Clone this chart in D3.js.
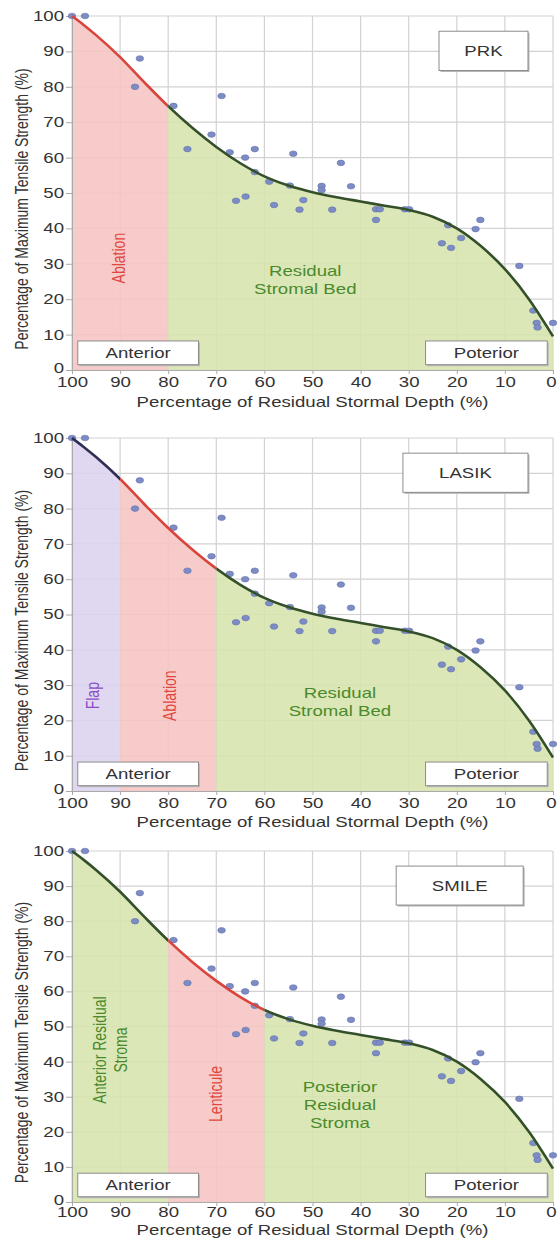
<!DOCTYPE html>
<html>
<head>
<meta charset="utf-8">
<script src="https://cdn.jsdelivr.net/npm/d3@7"></script>
<style>
  body { margin: 0; background: #fff; }
  text { font-family: "Liberation Sans", Arial, sans-serif; }
</style>
</head>
<body>
<div id="chart"></div>
<script>
// ---- data ----
var xTicks = [100, 90, 80, 70, 60, 50, 40, 30, 20, 10, 0];
var yTicks = [0, 10, 20, 30, 40, 50, 60, 70, 80, 90, 100];

// measured samples (depth %, strength %)
var pointX = [100, 97.3, 85.9, 86.9, 78.9, 68.9, 71, 76, 67.2, 64, 62, 62, 59, 65.9, 63.9, 58,
  54, 44.1, 42, 48.1, 48.1, 54.7, 51.9, 52.7, 45.9, 36.8, 36, 36.8, 30.8, 29.9,
  21.8, 23.1, 21.2, 19.1, 16.1, 15.1, 7, 4.1, 3.4, 3.2, 0];
var pointY = [100, 100, 88, 80, 74.6, 77.4, 66.5, 62.4, 61.5, 60, 62.4, 55.9, 53.2, 47.8, 49, 46.6,
  61.1, 58.5, 51.9, 52, 50.8, 52.1, 48, 45.3, 45.3, 45.4, 45.4, 42.4, 45.4, 45.4,
  40.9, 35.8, 34.5, 37.3, 39.8, 42.4, 29.4, 16.8, 13.3, 12, 13.3];

// fitted curve
var curveX = [100, 97.5, 95, 90, 85, 80, 75, 70, 65, 60, 55, 50, 45, 40, 35, 30, 25, 20, 15, 10, 5, 0];
var curveY = [100, 97.4, 94.6, 88.4, 81.3, 74.5, 68.4, 63, 58.4, 54.7, 52.1, 50.2, 48.8, 47.6, 46.4, 45.2, 43.3, 40, 35, 28.5, 20, 9.5];

var procedures = ["PRK", "LASIK", "SMILE"];
var zoneBreaks = [[100, 80, 0], [100, 90, 70, 0], [100, 80, 60, 0]];
var zoneKinds = [["ablation", "stroma"], ["flap", "ablation", "stroma"], ["stroma", "lenticule", "stroma"]];
var zoneLabels = [
  [["Ablation"], ["Residual", "Stromal Bed"]],
  [["Flap"], ["Ablation"], ["Residual", "Stromal Bed"]],
  [["Anterior Residual", "Stroma"], ["Lenticule"], ["Posterior", "Residual", "Stroma"]]
];
var xTitle = "Percentage of Residual Stormal Depth (%)";
var yTitle = "Percentage of Maximum Tensile Strength (%)";

// ---- layout / style ----
var svgWidth = 557, svgHeight = 1240;
var panelTop = [16, 438, 851];
var panelBottom = [370, 791, 1202];
var titleOffset = [32, 31, 28];
var plotLeft = 72, plotRight = 553;
var SX = 1.33; // the source figure is stretched horizontally

var fillColor = { flap: "#dcd2ee", ablation: "#f5c4c2", lenticule: "#f5c4c2", stroma: "#d6e4ad" };
var lineColor = { flap: "#2f2f55", ablation: "#d9453c", lenticule: "#d9453c", stroma: "#34502a" };
var labelColor = { flap: "#8a4fc8", ablation: "#e0463f", lenticule: "#e0463f", stroma: "#4a8a2c" };
// label anchors in data units
var labelPos = [
  [{ x: 90.4, y: 31.6, rot: true }, { x: 51.5, y: 28, rot: false }],
  [{ x: 95.7, y: 27, rot: true }, { x: 79.8, y: 27, rot: true }, { x: 44.3, y: 27.8, rot: false }],
  [{ x: 92.2, y: 43.3, rot: true }, { x: 70.3, y: 30.8, rot: true }, { x: 44.3, y: 32.8, rot: false }]
];
var procBox = [[23.7, 5.2], [31.2, 5.2], [32.6, 6.2]];

var svg = d3.select("#chart")
  .append("svg")
  .attr("width", svgWidth)
  .attr("height", svgHeight);

var defs = svg.append("defs");

var x = d3.scaleLinear().domain([100, 0]).range([plotLeft, plotRight]);

var curve = curveX.map(function(d, i) { return { x: d, y: curveY[i] }; });
var points = pointX.map(function(d, i) { return { x: d, y: pointY[i] }; });

procedures.forEach(function(name, p) {
  var y = d3.scaleLinear().domain([0, 100]).range([panelBottom[p], panelTop[p]]);
  var g = svg.append("g");

  // grid
  g.append("g").selectAll("line").data(xTicks).enter().append("line")
    .attr("x1", d => x(d)).attr("x2", d => x(d))
    .attr("y1", y(0)).attr("y2", y(100))
    .attr("stroke", "#d2d2d2").attr("stroke-width", 1.2);
  g.append("g").selectAll("line").data(yTicks).enter().append("line")
    .attr("x1", x(100)).attr("x2", x(0))
    .attr("y1", d => y(d)).attr("y2", d => y(d))
    .attr("stroke", "#d2d2d2").attr("stroke-width", 1.2);

  var area = d3.area()
    .x(d => x(d.x)).y0(y(0)).y1(d => y(d.y))
    .curve(d3.curveMonotoneX);
  var line = d3.line()
    .x(d => x(d.x)).y(d => y(d.y))
    .curve(d3.curveMonotoneX);

  var breaks = zoneBreaks[p];
  var kinds = zoneKinds[p];

  // one clip per zone so the curve stays smooth across boundaries
  kinds.forEach(function(k, i) {
    defs.append("clipPath").attr("id", "zone-" + p + "-" + i)
      .append("rect")
      .attr("x", x(breaks[i]) - (i === 0 ? 3 : 0))
      .attr("y", y(100) - 10)
      .attr("width", x(breaks[i + 1]) - x(breaks[i]) + (i === 0 ? 3 : 0) + (i === kinds.length - 1 ? 3 : 0))
      .attr("height", y(0) - y(100) + 20);
  });

  // zone fills
  kinds.forEach(function(k, i) {
    g.append("path")
      .datum(curve)
      .attr("d", area)
      .attr("clip-path", "url(#zone-" + p + "-" + i + ")")
      .attr("fill", fillColor[k])
      .attr("fill-opacity", 0.88);
  });

  // axes
  var bottomAxis = d3.axisBottom(x).tickValues(xTicks).tickSize(4).tickPadding(3);
  var leftAxis = d3.axisLeft(y).tickValues(yTicks).tickSize(6).tickPadding(2);

  var xa = g.append("g")
    .attr("transform", `translate(0, ${y(0)})`)
    .call(bottomAxis);
  var ya = g.append("g")
    .attr("transform", `translate(${x(100)}, 0)`)
    .call(leftAxis);
  [xa, ya].forEach(function(a) {
    a.select(".domain").attr("stroke", "#aaa");
    a.selectAll(".tick line").attr("stroke", "#aaa");
    a.selectAll(".tick text")
      .attr("font-size", 14)
      .attr("fill", "#333")
      .attr("font-family", "Liberation Sans, Arial, sans-serif");
  });
  xa.selectAll(".tick text")
    .attr("transform", `scale(${SX},1)`)
    .attr("x", d => d === 0 ? -1.5 : 0)
    .attr("y", p === 2 ? 5 : 7);
  ya.selectAll(".tick text").attr("transform", `scale(${SX},1)`)
    .attr("x", -6)
    .attr("y", d => d === 0 ? -2 : 0);

  // data dots
  g.append("g").selectAll("ellipse").data(points).enter().append("ellipse")
    .attr("cx", d => x(d.x))
    .attr("cy", d => y(d.y))
    .attr("rx", 3.8).attr("ry", 2.8)
    .attr("fill", "#7d8cc4")
    .attr("stroke", "#6574ad")
    .attr("stroke-width", 0.6);

  // fitted curve, coloured by zone
  kinds.forEach(function(k, i) {
    g.append("path")
      .datum(curve)
      .attr("d", line)
      .attr("clip-path", "url(#zone-" + p + "-" + i + ")")
      .attr("fill", "none")
      .attr("stroke", lineColor[k])
      .attr("stroke-width", 2.6);
  });

  // zone labels
  kinds.forEach(function(k, i) {
    var pos = labelPos[p][i];
    var lines = zoneLabels[p][i];
    var t = g.append("text")
      .attr("fill", labelColor[k])
      .attr("font-size", 14)
      .attr("text-anchor", "middle");
    if (pos.rot) {
      var shift = (lines.length - 1) * 0.55;
      t.attr("transform", `translate(${x(pos.x)}, ${y(pos.y)}) scale(${SX},1) rotate(-90)`);
      lines.forEach(function(s, j) {
        t.append("tspan").attr("x", 0)
          .attr("y", (j * 1.12 - shift + 0.36) + "em")
          .text(s);
      });
    } else {
      t.attr("transform", `translate(${x(pos.x)}, ${y(pos.y)}) scale(${SX},1)`);
      lines.forEach(function(s, j) {
        t.append("tspan").attr("x", 0)
          .attr("y", (j * 1.3 + 0.36) + "em")
          .text(s);
      });
    }
  });

  // boxes: procedure name, anterior, posterior
  function box(x0, x1, y0, y1, label) {
    var bx = x(x0), bw = x(x1) - x(x0), by = y(y0), bh = y(y1) - y(y0);
    g.append("rect")
      .attr("x", bx + 1.5).attr("y", by + 1.5)
      .attr("width", bw).attr("height", bh)
      .attr("fill", "#b8b8b8");
    g.append("rect")
      .attr("x", bx).attr("y", by)
      .attr("width", bw).attr("height", bh)
      .attr("fill", "#fff")
      .attr("stroke", "#8c8c8c")
      .attr("stroke-width", 1);
    g.append("text")
      .attr("transform", `translate(${bx + bw / 2}, ${by + bh / 2}) scale(${SX},1)`)
      .attr("dy", "0.36em")
      .attr("text-anchor", "middle")
      .attr("font-size", 14)
      .attr("fill", "#333")
      .text(label);
  }
  box(procBox[p][0], procBox[p][1], 95.7, 84.6, name);
  box(98.8, 73.7, 8.2, 1.5, "Anterior");
  box(26.5, 1.2, 8.2, 1.5, "Poterior");

  // axis titles
  g.append("text")
    .attr("transform", `translate(${(plotLeft + plotRight) / 2}, ${y(0) + titleOffset[p]}) scale(${SX},1)`)
    .attr("dy", "0.36em")
    .attr("text-anchor", "middle")
    .attr("font-size", 14)
    .attr("fill", "#333")
    .text(xTitle);
  g.append("text")
    .attr("transform", `translate(28, ${(y(0) + y(100)) / 2 + 16}) scale(${SX},1) rotate(-90)`)
    .attr("text-anchor", "middle")
    .attr("font-size", 14)
    .attr("fill", "#333")
    .text(yTitle);
});
</script>
</body>
</html>
